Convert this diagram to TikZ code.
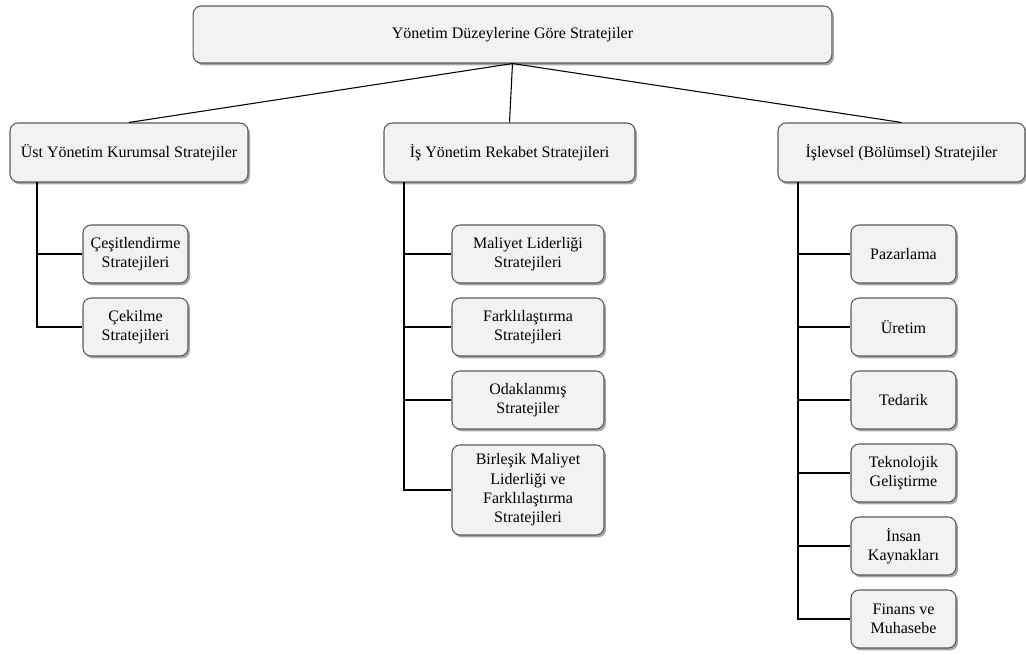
\documentclass[tikz,border=0pt]{standalone}
\usepackage{fontspec}
\setmainfont{Liberation Serif}
\usetikzlibrary{shadows}
\definecolor{boxfill}{HTML}{F2F2F2}
\definecolor{boxline}{HTML}{5A5A5A}
\tikzset{
  box/.style={draw=boxline, line width=0.8pt, fill=boxfill, rounded corners=6pt,
    align=center, inner sep=2pt, font=\fontsize{12}{14.5}\selectfont,
    drop shadow={shadow xshift=1.5pt, shadow yshift=-1.8pt, fill=black!35, opacity=1}},
  head/.style={box, minimum height=44.25pt},
  leaf/.style={box, minimum width=78.75pt, minimum height=43.5pt},
  wide/.style={box, minimum width=114pt, minimum height=43.5pt},
  link/.style={black, line width=0.8pt}
}
\begin{document}
\begin{tikzpicture}[x=0.75pt, y=-0.75pt]
    \useasboundingbox (0,0) rectangle (1026,655);
    % Ana kutu
    \node[box, minimum width=479pt, minimum height=42.75pt] (top) at (512.5,34.5) {Yönetim Düzeylerine Göre Stratejiler};
    % Düzeyler
    \node[head, minimum width=178.5pt] (ust) at (129,152.5) {Üst Yönetim Kurumsal Stratejiler};
    \node[head, minimum width=188.25pt] (is) at (509.5,152.5) {İş Yönetim Rekabet Stratejileri};
    \node[head, minimum width=185.25pt] (islev) at (901.5,152.5) {İşlevsel (Bölümsel) Stratejiler};
    % Kurumsal
    \node[leaf] (cesit) at (135.5,254) {Çeşitlendirme\\Stratejileri};
    \node[leaf] (cekil) at (135.5,327) {Çekilme\\Stratejileri};
    % Rekabet
    \node[wide] (maliyet) at (528,254) {Maliyet Liderliği\\Stratejileri};
    \node[wide] (fark) at (528,327) {Farklılaştırma\\Stratejileri};
    \node[wide] (odak) at (528,400) {Odaklanmış\\Stratejiler};
    \node[wide, minimum height=67.5pt] (birlesik) at (528,490) {Birleşik Maliyet\\Liderliği ve\\Farklılaştırma\\Stratejileri};
    % Islevsel
    \node[leaf] (pazar) at (903.5,254) {Pazarlama};
    \node[leaf] (uretim) at (903.5,327) {Üretim};
    \node[leaf] (tedarik) at (903.5,400) {Tedarik};
    \node[leaf] (tekno) at (903.5,473) {Teknolojik\\Geliştirme};
    \node[leaf] (insan) at (903.5,546) {İnsan\\Kaynakları};
    \node[leaf] (finans) at (903.5,619) {Finans ve\\Muhasebe};
    % Coordinate
    \coordinate (T1) at (37,182);
    \coordinate (T2) at (404,182);
    \coordinate (T3) at (798,182);
    % Linee
    \draw[link] (top.south) -- (ust.north);
    \draw[link] (top.south) -- (is.north);
    \draw[link] (top.south) -- (islev.north);
    \foreach \n in {cesit,cekil} \draw[link] (T1) |- (\n.west);
    \foreach \n in {maliyet,fark,odak,birlesik} \draw[link] (T2) |- (\n.west);
    \foreach \n in {pazar,uretim,tedarik,tekno,insan,finans} \draw[link] (T3) |- (\n.west);
\end{tikzpicture}
\end{document}
